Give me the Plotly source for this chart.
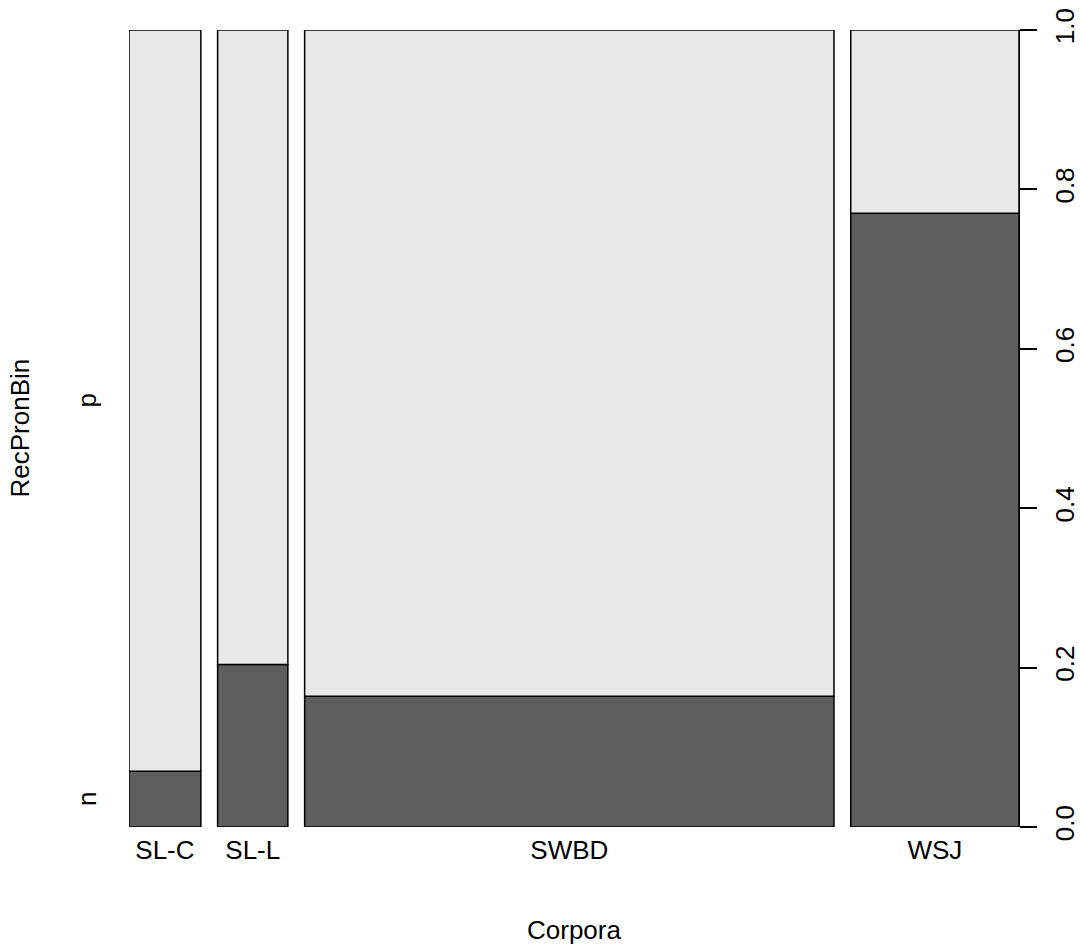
import plotly.graph_objects as go

# Data read from the spineplot
corpora = ["SL-C", "SL-L", "SWBD", "WSJ"]
corpus_share = [0.0857, 0.0838, 0.6314, 0.2007]   # relative bar widths
prop_n = [0.070, 0.204, 0.164, 0.770]            # share of RecPronBin = "n"
levels = ["n", "p"]
y_ticks = [0.0, 0.2, 0.4, 0.6, 0.8, 1.0]

off = 0.02  # gap between spines (R spineplot default: 2%)

lefts, centers = [], []
acc = 0.0
for i, w in enumerate(corpus_share):
    lefts.append(acc)
    centers.append(acc + w / 2)
    acc += w + off
total = acc - off

prop_p = [1 - v for v in prop_n]

FONT = "Liberation Sans, Arial, Helvetica, sans-serif"
FS = 26
DARK = "#5e5e5e"
LIGHT = "#e8e8e8"

fig = go.Figure()
fig.add_trace(go.Bar(
    x=centers, y=prop_n, width=corpus_share,
    marker=dict(color=DARK, line=dict(color="black", width=1.5)),
    hoverinfo="skip", showlegend=False,
))
fig.add_trace(go.Bar(
    x=centers, y=prop_p, base=prop_n, width=corpus_share,
    marker=dict(color=LIGHT, line=dict(color="black", width=1.5)),
    hoverinfo="skip", showlegend=False,
))

fig.update_layout(
    width=1080, height=947,
    margin=dict(l=129, r=61, t=30, b=120, autoexpand=False),
    paper_bgcolor="white", plot_bgcolor="white",
    barmode="overlay",
    font=dict(family=FONT, size=FS, color="black"),
    xaxis=dict(
        range=[0, total], showgrid=False, zeroline=False, showline=False,
        tickvals=centers, ticktext=corpora, ticks="", automargin=False,
        tickfont=dict(size=FS), ticklabelstandoff=5,
    ),
    yaxis=dict(
        range=[0, 1], side="right", showgrid=False, zeroline=False,
        showline=True, linecolor="black", linewidth=1.2, automargin=False,
        tickvals=y_ticks, ticktext=[f"{v:.1f}" for v in y_ticks],
        ticks="outside", ticklen=17, tickwidth=1.5, tickcolor="black",
        tickangle=-90, tickfont=dict(size=FS), ticklabelstandoff=6,
    ),
)

# Left-hand level labels at midpoints of the first spine's segments
first_mid = [prop_n[0] / 2, prop_n[0] + prop_p[0] / 2]
for lab, yv in zip(levels, first_mid):
    fig.add_annotation(
        x=-42 / 890, xref="paper", y=yv, yref="y", text=lab,
        showarrow=False, textangle=-90, xanchor="center", yanchor="middle",
        font=dict(size=FS, family=FONT),
    )

# Axis titles
fig.add_annotation(
    x=-110 / 890, xref="paper", y=0.5, yref="paper", text="RecPronBin",
    showarrow=False, textangle=-90, xanchor="center", yanchor="middle",
    font=dict(size=FS, family=FONT),
)
fig.add_annotation(
    x=0.5, xref="paper", y=-(930 - 827) / 797, yref="paper", text="Corpora",
    showarrow=False, xanchor="center", yanchor="middle",
    font=dict(size=FS, family=FONT),
)

fig.write_html(
    "out.html",
    config={"displayModeBar": False},
    post_script="document.body.style.margin='0';document.body.style.overflow='hidden';",
)
